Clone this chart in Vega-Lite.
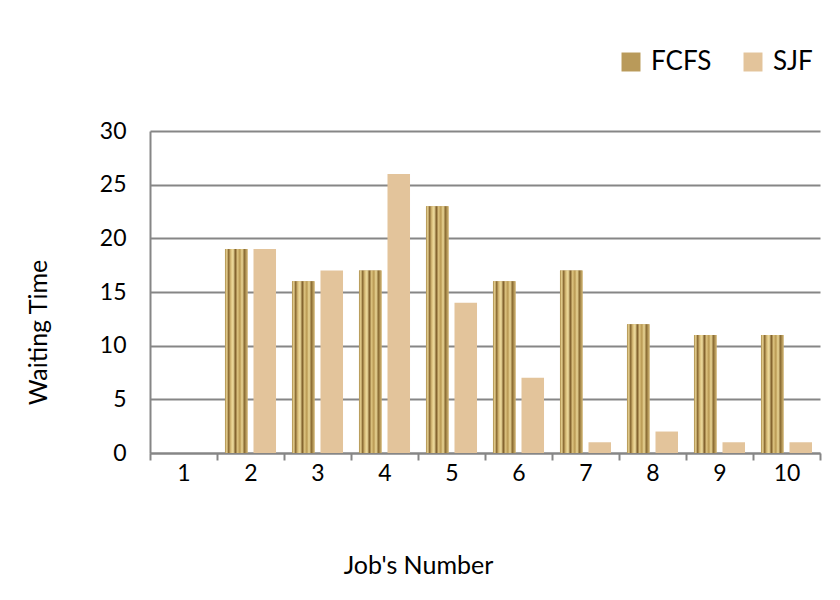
{
  "$schema": "https://vega.github.io/schema/vega-lite/v6.json",
  "width": 670,
  "height": 322,
  "autosize": {"type": "none"},
  "padding": {"left": 150, "top": 131, "right": 20, "bottom": 147},
  "background": "white",
  "config": {
    "font": "Lato",
    "view": {"stroke": null},
    "axis": {"labelFont": "Lato", "titleFont": "Lato", "labelColor": "black", "titleColor": "black", "titleFontWeight": "normal"},
    "legend": {"labelFont": "Lato"}
  },
  "data": {
    "values": [
      {"job": "1", "series": "FCFS", "value": 0},
      {"job": "1", "series": "SJF", "value": 0},
      {"job": "2", "series": "FCFS", "value": 19},
      {"job": "2", "series": "SJF", "value": 19},
      {"job": "3", "series": "FCFS", "value": 16},
      {"job": "3", "series": "SJF", "value": 17},
      {"job": "4", "series": "FCFS", "value": 17},
      {"job": "4", "series": "SJF", "value": 26},
      {"job": "5", "series": "FCFS", "value": 23},
      {"job": "5", "series": "SJF", "value": 14},
      {"job": "6", "series": "FCFS", "value": 16},
      {"job": "6", "series": "SJF", "value": 7},
      {"job": "7", "series": "FCFS", "value": 17},
      {"job": "7", "series": "SJF", "value": 1},
      {"job": "8", "series": "FCFS", "value": 12},
      {"job": "8", "series": "SJF", "value": 2},
      {"job": "9", "series": "FCFS", "value": 11},
      {"job": "9", "series": "SJF", "value": 1},
      {"job": "10", "series": "FCFS", "value": 11},
      {"job": "10", "series": "SJF", "value": 1}
    ]
  },
  "encoding": {
    "x": {
      "field": "job",
      "type": "ordinal",
      "sort": ["1","2","3","4","5","6","7","8","9","10"],
      "scale": {"paddingInner": 0, "paddingOuter": 0},
      "axis": {
        "title": "Job's Number",
        "labelAngle": 0,
        "labelFontSize": 23,
        "labelPadding": 2,
        "tickBand": "extent",
        "ticks": true,
        "tickSize": 7,
        "tickColor": "#868686",
        "tickWidth": 2,
        "domainColor": "#868686",
        "domainWidth": 2,
        "titleFontSize": 25,
        "titleX": 268,
        "titleY": 112,
        "titleAlign": "center",
        "titleBaseline": "middle"
      }
    },
    "xOffset": {
      "field": "series",
      "type": "nominal",
      "scale": {"paddingInner": 0.21, "paddingOuter": 0.28}
    },
    "y": {
      "field": "value",
      "type": "quantitative",
      "scale": {"domain": [0, 30]},
      "axis": {
        "title": "Waiting Time",
        "values": [0, 5, 10, 15, 20, 25, 30],
        "labelFontSize": 23,
        "labelPadding": 24,
        "ticks": false,
        "grid": true,
        "gridColor": "#868686",
        "gridWidth": 2,
        "domainColor": "#868686",
        "domainWidth": 2,
        "titleFontSize": 25,
        "titleX": -112,
        "titleY": 201,
        "titleAngle": -90,
        "titleBaseline": "middle",
        "titleAlign": "center"
      }
    }
  },
  "layer": [
    {
      "mark": {"type": "bar"},
      "encoding": {
        "color": {
          "field": "series",
          "type": "nominal",
          "scale": {"domain": ["FCFS", "SJF"], "range": ["#b99a5a", "#e3c49b"]},
          "legend": {
            "title": null,
            "orient": "none",
            "legendX": 468,
            "legendY": -82,
            "direction": "horizontal",
            "symbolType": "square",
            "symbolSize": 360,
            "symbolStrokeWidth": 0,
            "labelFontSize": 26,
            "labelColor": "black",
            "columnPadding": 28,
            "labelOffset": 7,
            "padding": 0
          }
        }
      }
    },
    {
      "transform": [{"filter": "datum.series === 'FCFS'"}],
      "mark": {
        "type": "bar",
        "fill": {
          "gradient": "linear",
          "x1": 0, "y1": 0, "x2": 1, "y2": 0,
          "stops": [
            {"offset": 0.0, "color": "#a88a48"},
            {"offset": 0.08, "color": "#e8d292"},
            {"offset": 0.16, "color": "#8a6a32"},
            {"offset": 0.26, "color": "#d9be7a"},
            {"offset": 0.36, "color": "#f0dea0"},
            {"offset": 0.46, "color": "#7e5e2a"},
            {"offset": 0.56, "color": "#dcc27e"},
            {"offset": 0.66, "color": "#b89852"},
            {"offset": 0.76, "color": "#ecd898"},
            {"offset": 0.86, "color": "#8a6c34"},
            {"offset": 1.0, "color": "#d4b874"}
          ]
        }
      }
    }
  ]
}
